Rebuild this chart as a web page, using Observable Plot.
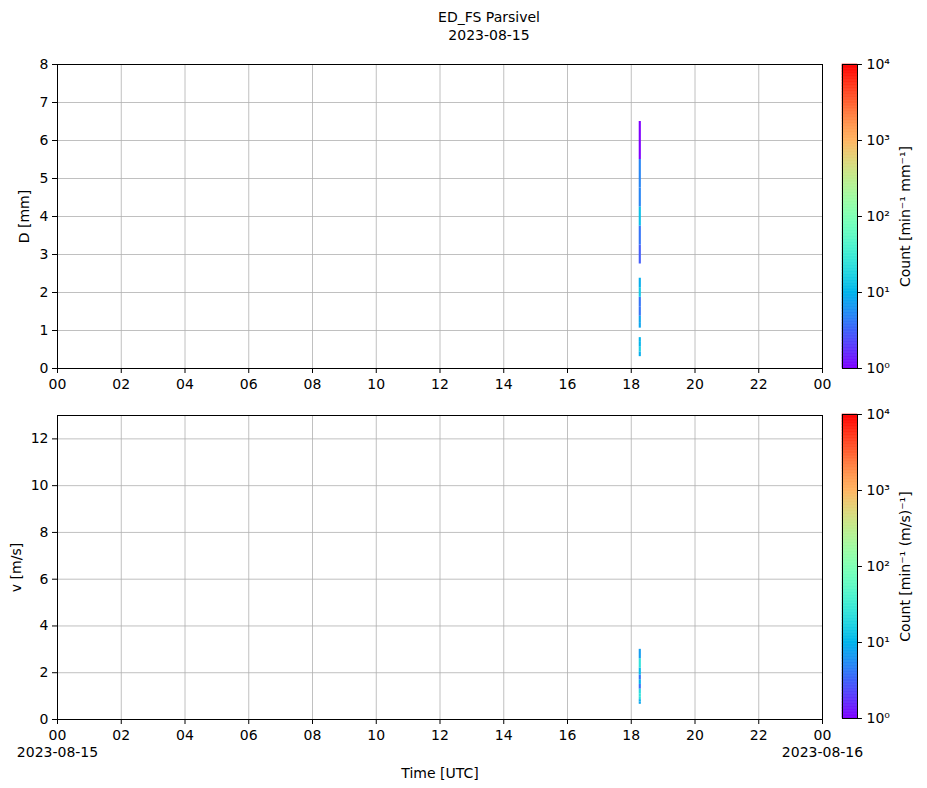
<!DOCTYPE html>
<html><head><meta charset="utf-8">
<script src="https://cdn.jsdelivr.net/npm/d3@7"></script>
<script src="https://cdn.jsdelivr.net/npm/@observablehq/plot@0.6"></script>
<style>
body{margin:0;background:#fff;}
#fig{position:relative;width:927px;height:788px;font-family:"DejaVu Sans",sans-serif;color:#000;overflow:hidden;}
#fig > div.p{position:absolute;}
#title{position:absolute;left:339px;width:300px;top:8px;text-align:center;font-size:14px;line-height:18px;}
</style></head><body>
<div id="fig">
  <div id="title">ED_FS Parsivel<br>2023-08-15</div>
  <div class="p" id="top" style="left:0;top:50px"></div>
  <div class="p" id="cbTop" style="left:830px;top:50px"></div>
  <div class="p" id="bot" style="left:0;top:400px"></div>
  <div class="p" id="cbBot" style="left:830px;top:400px"></div>
</div>
<script>
// ---- data ----
const dayStart = "2023-08-15T00:00:00Z";
const dayEnd = "2023-08-16T00:00:00Z";
const binStart = "2023-08-15T18:15:00Z";
const binEnd = "2023-08-15T18:19:00Z";
const hourTicks = [0, 2, 4, 6, 8, 10, 12, 14, 16, 18, 20, 22, 24];
const dTicks = [0, 1, 2, 3, 4, 5, 6, 7, 8];
const vTicks = [0, 2, 4, 6, 8, 10, 12];

// diameter classes (mm) and counts [min^-1 mm^-1]
const diameterLower = [0.312, 0.437, 0.562, 0.687, 1.062, 1.187, 1.375, 1.625, 1.875, 2.125, 2.75, 3.25, 3.75, 4.25, 4.75, 5.5];
const diameterUpper = [0.437, 0.562, 0.687, 0.812, 1.187, 1.375, 1.625, 1.875, 2.125, 2.375, 3.25, 3.75, 4.25, 4.75, 5.5, 6.5];
const diameterCounts = [9, 16, 10, 10, 8, 8, 4, 4, 14, 9, 3, 4, 12, 5, 5, 1];

// velocity classes (m/s) and counts [min^-1 (m/s)^-1]
const velocityLower = [0.65, 0.75, 0.85, 0.95, 1.1, 1.3, 1.5, 1.7, 1.9, 2.2, 2.6];
const velocityUpper = [0.75, 0.85, 0.95, 1.1, 1.3, 1.5, 1.7, 1.9, 2.2, 2.6, 3.0];
const velocityCounts = [8, 9, 22, 24, 20, 4, 10, 4, 11, 24, 7];

const colorTicks = [1, 10, 100, 1000, 10000];
const colorTickLabels = ["10\u2070", "10\u00b9", "10\u00b2", "10\u00b3", "10\u2074"];

// ---- helpers ----
function rainbow(t) {
  const r = Math.min(1, Math.abs(2 * t - 0.5));
  const g = Math.max(0, Math.sin(Math.PI * t));
  const b = Math.max(0, Math.cos(Math.PI * t / 2));
  return `rgb(${Math.round(r * 255)},${Math.round(g * 255)},${Math.round(b * 255)})`;
}
const colorOpts = {type: "log", domain: [1, 1e4], interpolate: rainbow};
const tickDates = hourTicks.map(h => new Date(Date.UTC(2023, 7, 15, h)));
const hh = d => String(d.getUTCHours()).padStart(2, "0");
const gridStyle = {stroke: "#b0b0b0", strokeOpacity: 1, strokeWidth: 0.8};
const svgStyle = {fontFamily: "DejaVu Sans, sans-serif", fontSize: "14px", overflow: "visible", background: "transparent", color: "#000"};

function panel({lower, upper, counts, yDomain, yTicks, yLabel, yLabelOffset, height, marginTop, marginBottom, bottom}) {
  const cells = counts.map((c, i) => ({lo: lower[i], hi: upper[i], c}));
  return Plot.plot({
    width: 840, height, marginLeft: 57, marginRight: 18, marginTop, marginBottom,
    style: svgStyle,
    x: {type: "utc", domain: [new Date(dayStart), new Date(dayEnd)]},
    y: {domain: yDomain},
    color: colorOpts,
    marks: [
      Plot.gridX(tickDates, gridStyle),
      Plot.gridY(yTicks, gridStyle),
      Plot.rect(cells, {x1: () => new Date(binStart), x2: () => new Date(binEnd), y1: "lo", y2: "hi", fill: "c"}),
      Plot.frame({stroke: "black", strokeWidth: 1}),
      Plot.axisX(tickDates, {
        tickSize: 5, tickPadding: 4, lineHeight: 1.2,
        tickFormat: bottom ? ((d, i) => (i === 0 ? hh(d) + "\n2023-08-15" : i === hourTicks.length - 1 ? hh(d) + "\n2023-08-16" : hh(d))) : hh,
        label: bottom ? "Time [UTC]" : null, labelAnchor: "center", labelArrow: "none", labelOffset: 58
      }),
      Plot.axisY(yTicks, {tickSize: 5, tickPadding: 4, label: yLabel, labelAnchor: "center", labelArrow: "none", labelOffset: yLabelOffset})
    ]
  });
}

function colorbar(label) {
  const n = 200;
  const stripes = d3.range(n).map(i => ({lo: Math.pow(10, 4 * i / n), hi: Math.pow(10, 4 * (i + 1) / n), m: Math.pow(10, 4 * (i + 0.5) / n)}));
  return Plot.plot({
    width: 97, height: 340, marginLeft: 12, marginRight: 70, marginTop: 14, marginBottom: 22,
    style: svgStyle,
    x: {domain: [0, 1], axis: null},
    y: {type: "log", domain: [1, 1e4], axis: null},
    color: colorOpts,
    marks: [
      Plot.rect(stripes, {x1: 0, x2: 1, y1: "lo", y2: "hi", fill: "m", stroke: "m", strokeWidth: 0.6}),
      Plot.frame({stroke: "black", strokeWidth: 1}),
      Plot.ruleY(colorTicks, {y: d => d, x1: 1, x2: 1.33, stroke: "black", strokeWidth: 1}),
      Plot.text(colorTicks, {y: d => d, x: 1, dx: 9, text: d => colorTickLabels[colorTicks.indexOf(d)], textAnchor: "start", fill: "black"}),
      Plot.axisY({anchor: "right", ticks: [], label, labelAnchor: "center", labelArrow: "none", labelOffset: 52})
    ]
  });
}

document.getElementById("top").append(panel({
  lower: diameterLower, upper: diameterUpper, counts: diameterCounts,
  yDomain: [0, 8], yTicks: dTicks, yLabel: "D [mm]", yLabelOffset: 38,
  height: 340, marginTop: 14, marginBottom: 22, bottom: false
}));
document.getElementById("bot").append(panel({
  lower: velocityLower, upper: velocityUpper, counts: velocityCounts,
  yDomain: [0, 13], yTicks: vTicks, yLabel: "v [m/s]", yLabelOffset: 46,
  height: 388, marginTop: 15, marginBottom: 69, bottom: true
}));
document.getElementById("cbTop").append(colorbar("Count [min\u207b\u00b9 mm\u207b\u00b9]"));
document.getElementById("cbBot").append(colorbar("Count [min\u207b\u00b9 (m/s)\u207b\u00b9]"));
</script>
</body></html>
